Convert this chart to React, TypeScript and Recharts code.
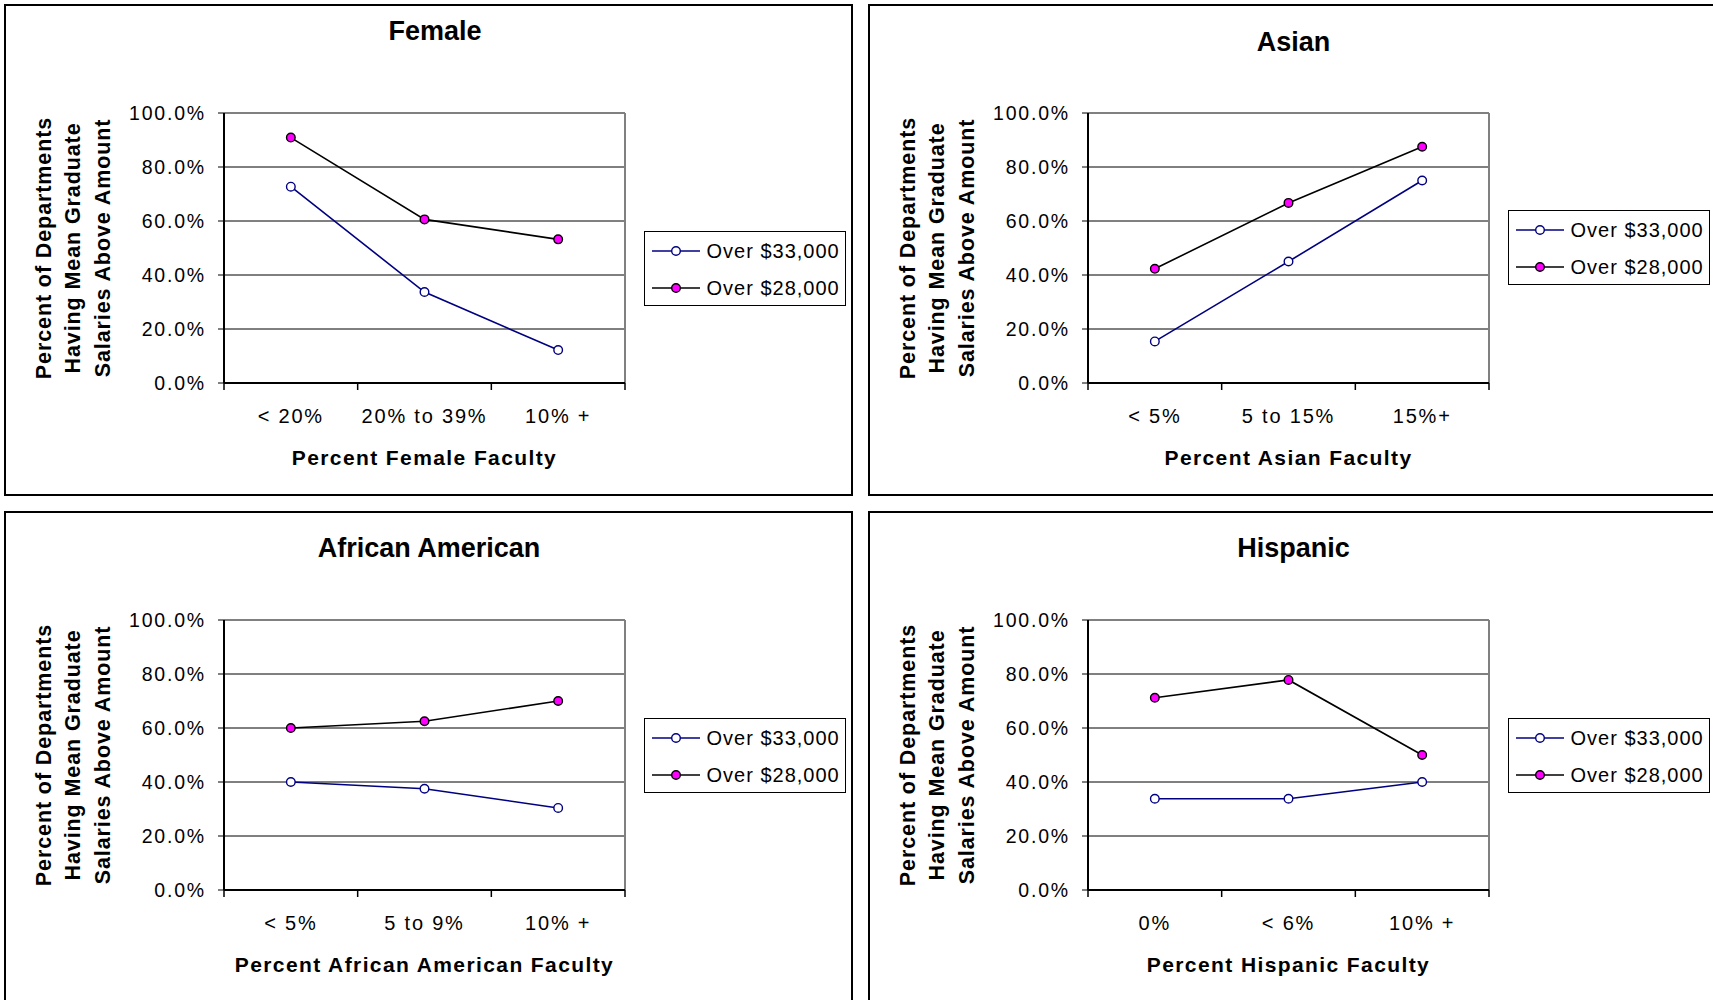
import React from 'react';
import { LineChart, Line, XAxis, YAxis, CartesianGrid, Legend, ReferenceLine } from 'recharts';

const FONT = 'Arial, "Liberation Sans", Helvetica, sans-serif';

// values are percent of departments
const seriesNames = ['Over $33,000', 'Over $28,000'];
const yTicks = [0, 20, 40, 60, 80, 100];

const femaleCats = ['< 20%', '20% to 39%', '10% +'];
const femaleOver33 = [72.7, 33.7, 12.2];
const femaleOver28 = [90.9, 60.6, 53.2];

const asianCats = ['< 5%', '5 to 15%', '15%+'];
const asianOver33 = [15.4, 45.0, 75.0];
const asianOver28 = [42.3, 66.7, 87.5];

const africanCats = ['< 5%', '5 to 9%', '10% +'];
const africanOver33 = [40.0, 37.5, 30.4];
const africanOver28 = [60.0, 62.5, 70.0];

const hispanicCats = ['0%', '< 6%', '10% +'];
const hispanicOver33 = [33.8, 33.8, 40.0];
const hispanicOver28 = [71.2, 77.8, 50.0];

// chart geometry (plot box inside each chart)
const CHART_W = 845;
const CHART_H = 490;
const PLOT_LEFT = 220;
const PLOT_TOP = 109;
const PLOT_W = 401;
const PLOT_H = 270;
const Y_AXIS_W = 100;
const X_AXIS_H = 60;

const seriesStyle = [
  { key: 'over33', stroke: '#000080', fill: '#ffffff' },
  { key: 'over28', stroke: '#000000', fill: '#ff00ff' },
];

type PanelDef = {
  title: string;
  xTitle: string;
  cats: string[];
  over33: number[];
  over28: number[];
  left: number;
  top: number;
  width: number;
  height: number;
  titleX: number;
  titleY: number;
  legendTop: number;
};

const panels: PanelDef[] = [
  { title: 'Female', xTitle: 'Percent Female Faculty', cats: femaleCats, over33: femaleOver33, over28: femaleOver28,
    left: 4, top: 4, width: 849, height: 492, titleX: 431, titleY: 26.5, legendTop: 227 },
  { title: 'Asian', xTitle: 'Percent Asian Faculty', cats: asianCats, over33: asianOver33, over28: asianOver28,
    left: 868, top: 4, width: 860, height: 492, titleX: 425.5, titleY: 38.3, legendTop: 206 },
  { title: 'African American', xTitle: 'Percent African American Faculty', cats: africanCats, over33: africanOver33, over28: africanOver28,
    left: 4, top: 511, width: 849, height: 500, titleX: 425, titleY: 37, legendTop: 207 },
  { title: 'Hispanic', xTitle: 'Percent Hispanic Faculty', cats: hispanicCats, over33: hispanicOver33, over28: hispanicOver28,
    left: 868, top: 511, width: 860, height: 500, titleX: 425.5, titleY: 37, legendTop: 207 },
];

const yTitleLines = ['Percent of Departments', 'Having Mean Graduate', 'Salaries Above  Amount'];
const yTitleOffsets = [-180.5, -151, -121];

const YTick = (props: any) => {
  const { x, y, payload } = props;
  return (
    <text x={x} y={y} textAnchor="end" dominantBaseline="central" fontSize={19.5} letterSpacing={1.8}
      fontFamily={FONT} fill="#000">
      {`${Number(payload.value).toFixed(1)}%`}
    </text>
  );
};

const makeXTick = (cats: string[]) => (props: any) => {
  const { x, y, payload } = props;
  const v = payload.value as number;
  if (Number.isInteger(v)) {
    return <line x1={x} x2={x} y1={y} y2={y + 7} stroke="#000" strokeWidth={1.5} />;
  }
  return (
    <text x={x} y={y + 33} textAnchor="middle" dominantBaseline="central" fontSize={20} letterSpacing={1.8}
      fontFamily={FONT} fill="#000">
      {cats[Math.floor(v)]}
    </text>
  );
};

const YTitle = () => {
  const cy = PLOT_TOP + PLOT_H / 2;
  return (
    <g>
      {yTitleLines.map((line, i) => {
        const cx = PLOT_LEFT + yTitleOffsets[i];
        return (
          <text key={line} x={cx} y={cy} transform={`rotate(-90, ${cx}, ${cy})`} textAnchor="middle"
            dominantBaseline="central" fontSize={21.5} fontWeight="bold" letterSpacing={0.9}
            fontFamily={FONT} fill="#000">
            {line}
          </text>
        );
      })}
    </g>
  );
};

const XTitle = ({ text }: { text: string }) => (
  <text x={PLOT_LEFT + PLOT_W / 2} y={PLOT_TOP + PLOT_H + 74} textAnchor="middle" dominantBaseline="central"
    fontSize={21} fontWeight="bold" letterSpacing={1.4} fontFamily={FONT} fill="#000">
    {text}
  </text>
);

// legend keeps the series order ($33,000 first), not the alphabetical one
const LegendBox = (props: any) => {
  const order = seriesStyle.map((s) => s.key);
  const entries = [...(props.payload || [])]
    .sort((a: any, b: any) => order.indexOf(a.dataKey) - order.indexOf(b.dataKey))
    .map((p: any, i: number) => ({
      name: p.value,
      style: seriesStyle.find((s) => s.key === p.dataKey) || seriesStyle[i],
    }));
  return (
    <svg width={202} height={75} style={{ display: 'block' }}>
      <rect x={0.5} y={0.5} width={201} height={74} fill="#fff" stroke="#000" strokeWidth={1} />
      {entries.map((e: any, i: number) => {
        const cy = 20 + i * 37;
        return (
          <g key={e.name}>
            <line x1={8} x2={56} y1={cy} y2={cy} stroke={e.style.stroke} strokeWidth={1.5} />
            <circle cx={32} cy={cy} r={4.3} fill={e.style.fill} stroke={e.style.stroke} strokeWidth={1.4} />
            <text x={62.5} y={cy} dominantBaseline="central" fontSize={20} letterSpacing={1}
              fontFamily={FONT} fill="#000">
              {e.name}
            </text>
          </g>
        );
      })}
    </svg>
  );
};

const Panel = ({ p }: { p: PanelDef }) => {
  const rows = p.cats.map((c, i) => ({ pos: i + 0.5, cat: c, over33: p.over33[i], over28: p.over28[i] }));
  return (
    <div style={{ position: 'absolute', left: p.left, top: p.top, width: p.width, height: p.height,
      border: '2px solid #000', boxSizing: 'border-box' }}>
      <div style={{ position: 'absolute', left: p.titleX - 250 - 2, top: p.titleY - 13 - 2, width: 500,
        textAlign: 'center', fontFamily: FONT, fontWeight: 'bold', fontSize: 27, lineHeight: '27px', color: '#000' }}>
        {p.title}
      </div>
      <div style={{ position: 'absolute', left: -2, top: -2 }}>
        <LineChart width={CHART_W} height={CHART_H} data={rows}
          margin={{ top: PLOT_TOP, left: PLOT_LEFT - Y_AXIS_W, right: CHART_W - PLOT_LEFT - PLOT_W,
            bottom: CHART_H - PLOT_TOP - PLOT_H - X_AXIS_H }}>
          <CartesianGrid vertical={false} stroke="#000" strokeWidth={1} />
          <ReferenceLine y={100} stroke="#808080" strokeWidth={2} />
          <ReferenceLine x={3} stroke="#808080" strokeWidth={2} />
          <XAxis type="number" dataKey="pos" domain={[0, 3]} ticks={[0, 0.5, 1, 1.5, 2, 2.5, 3]} interval={0}
            height={X_AXIS_H} tickSize={0} tickMargin={0} tickLine={false}
            axisLine={{ stroke: '#000', strokeWidth: 2 }} tick={makeXTick(p.cats)}
            label={{ content: () => <XTitle text={p.xTitle} /> }} />
          <YAxis type="number" domain={[0, 100]} ticks={yTicks} interval={0} width={Y_AXIS_W}
            tickSize={6} tickMargin={12} tickLine={{ stroke: '#000', strokeWidth: 1 }}
            axisLine={{ stroke: '#000', strokeWidth: 2 }} tick={<YTick />}
            label={{ content: () => <YTitle /> }} />
          <Legend layout="horizontal" verticalAlign="middle" align="center" content={<LegendBox />}
            wrapperStyle={{ left: 640, top: p.legendTop, width: 202, height: 75 }} />
          <Line type="linear" dataKey="over33" name={seriesNames[0]} stroke={seriesStyle[0].stroke}
            strokeWidth={1.6} dot={{ r: 4.3, fill: seriesStyle[0].fill, stroke: seriesStyle[0].stroke, strokeWidth: 1.4 }}
            activeDot={false} isAnimationActive={false} />
          <Line type="linear" dataKey="over28" name={seriesNames[1]} stroke={seriesStyle[1].stroke}
            strokeWidth={1.6} dot={{ r: 4.3, fill: seriesStyle[1].fill, stroke: seriesStyle[1].stroke, strokeWidth: 1.4 }}
            activeDot={false} isAnimationActive={false} />
        </LineChart>
      </div>
    </div>
  );
};

export default function App() {
  return (
    <div style={{ position: 'absolute', left: 0, top: 0, width: 1713, height: 1000, background: '#fff',
      overflow: 'hidden' }}>
      {panels.map((p) => (
        <Panel key={p.title} p={p} />
      ))}
    </div>
  );
}
